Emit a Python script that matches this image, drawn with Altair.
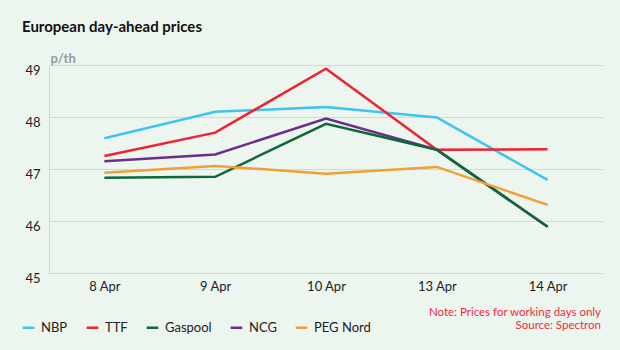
import altair as alt
import pandas as pd

dates = ["8 Apr", "9 Apr", "10 Apr", "13 Apr", "14 Apr"]
series_names = ["NBP", "TTF", "Gaspool", "NCG", "PEG Nord"]
nbp = [47.59, 48.10, 48.19, 47.99, 46.79]
ttf = [47.25, 47.70, 48.93, 47.37, 47.38]
gaspool = [46.83, 46.85, 47.87, 47.37, 45.89]
ncg = [47.15, 47.28, 47.97, 47.37, 45.89]
peg = [46.93, 47.06, 46.91, 47.04, 46.31]
colors = ["#3fc3f2", "#ee2230", "#0b6a36", "#6a2d90", "#f0a035"]
y_ticks = [45, 46, 47, 48, 49]
note_lines = ["Note: Prices for working days only", "Source: Spectron"]

# draw order (later = on top)
draw = [("NBP", nbp), ("TTF", ttf), ("NCG", ncg), ("Gaspool", gaspool), ("PEG Nord", peg)]
rows = []
for name, vals in draw:
    for d, v in zip(dates, vals):
        rows.append({"date": d, "series": name, "price": v})
df = pd.DataFrame(rows)

FONT = "Lato"
BG = "#ecf5ee"
GRID = "#d3d8d3"

lines = alt.Chart(df).mark_line(strokeWidth=2.5).encode(
    x=alt.X("date:N", sort=dates, scale=alt.Scale(type="point", padding=0.5),
            axis=alt.Axis(title=None, labelAngle=0, domain=False, ticks=False,
                          labelPadding=7, labelFontSize=13, labelColor="#222",
                          labelFont=FONT, grid=False)),
    y=alt.Y("price:Q", scale=alt.Scale(domain=[45, 49], nice=False, zero=False),
            axis=alt.Axis(values=y_ticks, title="p/th", titleAngle=0, titleAlign="left",
                          titleBaseline="middle", titleX=1, titleY=-7,
                          titleColor="#999", titleFont=FONT, titleFontSize=13,
                          titleFontWeight="bold",
                          domain=True, domainColor=GRID, ticks=False, grid=True,
                          gridColor=GRID, gridWidth=1, labelPadding=9, labelOffset=5,
                          labelFontSize=13, labelColor="#222", labelFont=FONT)),
    color=alt.Color("series:N", scale=alt.Scale(domain=series_names, range=colors),
                    legend=alt.Legend(title=None, orient="none", direction="horizontal",
                                      legendX=-28, legendY=255, symbolType="stroke",
                                      symbolSize=136, symbolStrokeWidth=2.5,
                                      labelFontSize=13, labelFont=FONT, labelColor="#222",
                                      labelOffset=5, columnPadding=13, padding=0)),
)

note_layers = []
for i, line in enumerate(note_lines):
    note_layers.append(
        alt.Chart(pd.DataFrame({"t": [line]})).mark_text(
            align="right", baseline="middle", fontSize=11.5, font=FONT, color="#ee2c3c"
        ).encode(x=alt.value(552), y=alt.value(247.6 + 13.4 * i), text="t:N")
    )

chart = alt.layer(lines, *note_layers).properties(
    width=554, height=208,
    autosize="none",
    padding={"left": 49, "top": 65, "right": 17, "bottom": 77},
    background=BG,
    title=alt.TitleParams("European day-ahead prices", anchor="start", frame="group",
                          font=FONT, fontSize=15, fontWeight="bold", color="#111",
                          dx=-27, offset=17),
).configure_view(stroke=None)

chart.save("out.html", embed_options={"renderer": "svg", "actions": False})
